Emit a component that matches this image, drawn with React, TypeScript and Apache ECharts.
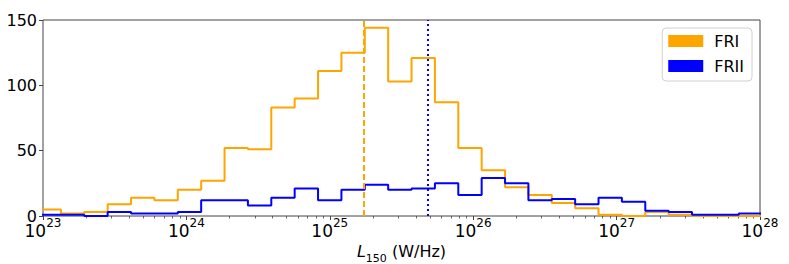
import React, { useEffect, useRef } from "react";
import * as echarts from "echarts";

// log10 of bin edges: first edge and constant bin width (in dex)
const binStart = 22.962;
const binWidth = 0.163;

const friCounts = [5, 2, 3, 9, 14, 12, 20, 27, 52, 51, 83, 90, 111, 125, 144, 103, 121, 87, 52, 35, 22, 16, 10, 6, 1, 0, 3, 1, 0, 0, 0];
const friiCounts = [1, 1, 0, 3, 2, 2, 3, 12, 12, 8, 14, 21, 12, 20, 24, 20, 21, 25, 16, 29, 25, 12, 13, 9, 14, 11, 4, 3, 1, 1, 2];

const seriesNames = ["FRI", "FRII"];
const seriesColors = ["#FFA500", "#0000FF"];
const medianLog = [25.236, 25.683];

const xMajorTicks = [23, 24, 25, 26, 27, 28];
const yTicks = [0, 50, 100, 150];

function stepData(counts: number[]) {
  const pts: number[][] = counts.map((c, i) => [binStart + i * binWidth, c]);
  pts.push([binStart + counts.length * binWidth, counts[counts.length - 1]]);
  return pts;
}

function minorTickValues() {
  const vals: number[] = [];
  for (let d = xMajorTicks[0]; d < xMajorTicks[xMajorTicks.length - 1]; d++) {
    for (let k = 2; k <= 9; k++) vals.push(d + Math.log10(k));
  }
  return vals;
}

export default function App() {
  const ref = useRef<HTMLDivElement>(null);
  useEffect(() => {
    if (!ref.current) return;
    const chart = echarts.init(ref.current, undefined, { renderer: "svg" });
    const font = "DejaVu Sans";
    const frame = "#444";
    chart.setOption({
      animation: false,
      backgroundColor: "#fff",
      textStyle: { fontFamily: font },
      grid: {
        left: 43,
        right: 29,
        top: 20,
        bottom: 48,
        containLabel: false,
        outerBoundsMode: "none",
        show: true,
        borderColor: frame,
        borderWidth: 1,
        backgroundColor: "transparent",
      },
      legend: {
        orient: "vertical",
        right: 37,
        top: 28,
        itemWidth: 35,
        itemHeight: 12,
        itemGap: 9,
        padding: [5, 8, 7, 6],
        borderColor: "#d0d0d0",
        borderWidth: 1,
        borderRadius: 4,
        backgroundColor: "rgba(255,255,255,0.8)",
        textStyle: { fontFamily: font, fontSize: 16, color: "#000", padding: [0, 0, 0, 6] },
        data: seriesNames.map((n, i) => ({ name: n, icon: "rect", itemStyle: { color: seriesColors[i] } })),
      },
      xAxis: [
        {
          type: "value",
          min: xMajorTicks[0],
          max: xMajorTicks[xMajorTicks.length - 1],
          interval: 1,
          position: "bottom",
          axisLine: { show: false },
          splitLine: { show: false },
          axisTick: { show: true, inside: false, length: 4, lineStyle: { color: frame, width: 1 } },
          axisLabel: {
            showMinLabel: true,
            showMaxLabel: true,
            margin: 1,
            formatter: (v: number) => `{b|10}{s|${Math.round(v)}}`,
            rich: {
              b: { fontFamily: font, fontSize: 17, color: "#000", verticalAlign: "bottom", lineHeight: 22 },
              s: { fontFamily: font, fontSize: 12, color: "#000", verticalAlign: "top", lineHeight: 22 },
            },
          },
          name: "{i|L}{sub|150}{n| (W/Hz)}",
          nameLocation: "middle",
          nameGap: 24,
          nameTextStyle: {
            rich: {
              i: { fontFamily: font, fontSize: 16, fontStyle: "italic", color: "#000", verticalAlign: "top", lineHeight: 20 },
              sub: { fontFamily: font, fontSize: 11, color: "#000", verticalAlign: "bottom", lineHeight: 20 },
              n: { fontFamily: font, fontSize: 16, color: "#000", verticalAlign: "top", lineHeight: 20 },
            },
          },
        },
        {
          type: "value",
          min: xMajorTicks[0],
          max: xMajorTicks[xMajorTicks.length - 1],
          position: "bottom",
          axisLine: { show: false },
          splitLine: { show: false },
          axisLabel: { show: false },
          axisTick: {
            show: true,
            length: 2.5,
            customValues: minorTickValues(),
            lineStyle: { color: frame, width: 0.8 },
          },
        },
      ],
      yAxis: {
        type: "value",
        min: yTicks[0],
        max: yTicks[yTicks.length - 1],
        interval: 50,
        axisLine: { show: false },
        splitLine: { show: false },
        axisTick: { show: true, inside: false, length: 4, lineStyle: { color: frame, width: 1 } },
        axisLabel: { fontFamily: font, fontSize: 16, color: "#000", margin: 6 },
      },
      series: [
        {
          name: seriesNames[0],
          type: "line",
          step: "end",
          xAxisIndex: 0,
          data: stepData(friCounts),
          showSymbol: false,
          symbol: "none",
          clip: true,
          lineStyle: { color: seriesColors[0], width: 2 },
          itemStyle: { color: seriesColors[0] },
          markLine: {
            silent: true,
            symbol: "none",
            label: { show: false },
            lineStyle: { color: seriesColors[0], type: [6, 3], width: 2 },
            data: [{ xAxis: medianLog[0] }],
          },
        },
        {
          name: seriesNames[1],
          type: "line",
          step: "end",
          xAxisIndex: 0,
          data: stepData(friiCounts),
          showSymbol: false,
          symbol: "none",
          clip: true,
          lineStyle: { color: seriesColors[1], width: 2 },
          itemStyle: { color: seriesColors[1] },
          markLine: {
            silent: true,
            symbol: "none",
            label: { show: false },
            lineStyle: { color: seriesColors[1], type: [2, 3], width: 2 },
            data: [{ xAxis: medianLog[1] }],
          },
        },
      ],
    });
    return () => chart.dispose();
  }, []);
  return <div ref={ref} style={{ position: "fixed", left: 0, top: 0, width: 789, height: 264 }} />;
}
